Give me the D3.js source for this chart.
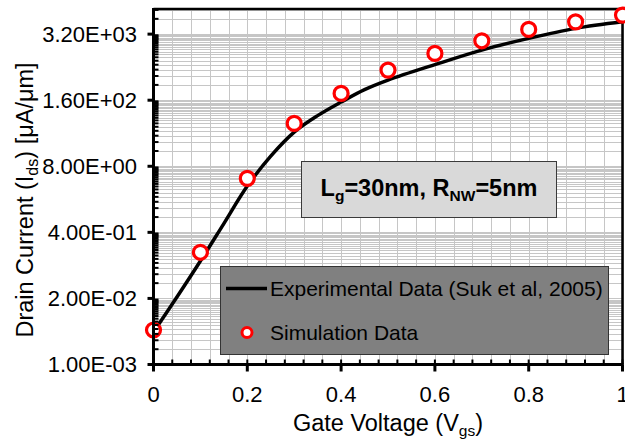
<!DOCTYPE html>
<html><head><meta charset="utf-8">
<script src="https://cdn.jsdelivr.net/npm/d3@7"></script>
<style>body{margin:0;background:#fff}svg{display:block}text{font-family:"Liberation Sans",Arial,sans-serif}</style>
</head><body>
<script>
const simX = [0,0.1,0.2,0.3,0.4,0.5,0.6,0.7,0.8,0.9,1.0];
const simY = [0.00478,0.162,4.63,55.9,218,626,1334,2366,3966,5590,7580];
const expX = [0,0.05,0.1,0.15,0.2,0.25,0.3,0.35,0.4,0.45,0.5,0.6,0.7,0.8,0.9,1.0];
const expY = [0.00436,0.0213,0.109,0.596,3.26,12.7,37.7,79.6,147,258,398,803,1550,2640,4150,5590];
const yTickVals = [1e-3,2e-2,4e-1,8,160,3200];
const yTickLabels = ["1.00E-03","2.00E-02","4.00E-01","8.00E+00","1.60E+02","3.20E+03"];
const xTickVals = [0,0.2,0.4,0.6,0.8,1];
const xTickLabels = ["0","0.2","0.4","0.6","0.8","1"];

const W=625,H=443;
const L=153.5,R=622.5,T=9,B=364.5;
const svg=d3.select("body").append("svg").attr("width",W).attr("height",H);
const x=d3.scaleLinear().domain([0,1]).range([L,R]);
const y=d3.scaleLog().base(20).domain([1e-3,1e4]).range([B,T]);

const yMinor=[];
yTickVals.forEach(b=>{for(let k=2;k<=19;k++){const v=b*k;if(v<1e4)yMinor.push(v);}});
const xMinor=d3.range(0,1.0001,0.04).map(v=>+v.toFixed(2));

const grid=svg.append("g").attr("stroke","#c6c6c6").attr("stroke-width",1);
xMinor.forEach(v=>{grid.append("line").attr("x1",Math.round(x(v))+0.5).attr("x2",Math.round(x(v))+0.5).attr("y1",T).attr("y2",B);});
yMinor.concat(yTickVals).forEach(v=>{const yy=Math.round(y(v))+0.5;grid.append("line").attr("x1",L).attr("x2",R).attr("y1",yy).attr("y2",yy);});

svg.append("path").attr("d",`M${L},${T}H${R}V${B}`).attr("fill","none").attr("stroke","#000").attr("stroke-width",2.5);

// text box
const tb=svg.append("g");
tb.append("rect").attr("x",301.5).attr("y",161.5).attr("width",255).attr("height",56).attr("fill","#d9d9d9").attr("stroke","#3a3a3a").attr("stroke-width",1);
const tt=tb.append("text").attr("x",429).attr("y",196).attr("text-anchor","middle").attr("font-size",23.5).attr("font-weight","bold").attr("fill","#000");
tt.append("tspan").text("L");
tt.append("tspan").attr("font-size",15.5).attr("dy",5).text("g");
tt.append("tspan").attr("dy",-5).text("=30nm, R");
tt.append("tspan").attr("font-size",15.5).attr("dy",5).text("NW");
tt.append("tspan").attr("dy",-5).text("=5nm");

// legend
const lg=svg.append("g");
lg.append("rect").attr("x",220.5).attr("y",266.5).attr("width",388).attr("height",88).attr("fill","#808080").attr("stroke","#333").attr("stroke-width",1);
lg.append("line").attr("x1",226).attr("x2",267).attr("y1",288.5).attr("y2",288.5).attr("stroke","#000").attr("stroke-width",3.5);
lg.append("text").attr("x",270).attr("y",296).attr("font-size",21).attr("fill","#000").text("Experimental Data (Suk et al, 2005)");
lg.append("circle").attr("cx",247).attr("cy",332.5).attr("r",5).attr("fill","#fff").attr("stroke","#ff0000").attr("stroke-width",3);
lg.append("text").attr("x",270).attr("y",340).attr("font-size",21).attr("fill","#000").text("Simulation Data");

// experimental line
const line=d3.line().x((d,i)=>x(expX[i])).y(d=>y(d)).curve(d3.curveCatmullRom.alpha(0.5));
svg.append("path").datum(expY).attr("d",line).attr("fill","none").attr("stroke","#000").attr("stroke-width",3.5);

// simulation points
svg.append("g").selectAll("circle").data(simY).join("circle")
 .attr("cx",(d,i)=>x(simX[i])).attr("cy",d=>y(d)).attr("r",7)
 .attr("fill","#fff").attr("stroke","#ff0000").attr("stroke-width",3.2);

// axes
const ax=svg.append("g").attr("stroke","#000");
ax.append("line").attr("x1",L).attr("x2",L).attr("y1",T-1).attr("y2",B+1.5).attr("stroke-width",3);
ax.append("line").attr("x1",L-1.5).attr("x2",R+1).attr("y1",B).attr("y2",B).attr("stroke-width",3);
yTickVals.forEach(v=>{ax.append("line").attr("x1",L-6).attr("x2",L).attr("y1",y(v)).attr("y2",y(v)).attr("stroke-width",3);});
yMinor.forEach(v=>{ax.append("line").attr("x1",L).attr("x2",L+5).attr("y1",y(v)).attr("y2",y(v)).attr("stroke-width",2);});
xTickVals.forEach(v=>{ax.append("line").attr("x1",x(v)).attr("x2",x(v)).attr("y1",B).attr("y2",B+7).attr("stroke-width",3);});
xMinor.forEach(v=>{ax.append("line").attr("x1",x(v)).attr("x2",x(v)).attr("y1",B).attr("y2",B-5).attr("stroke-width",2);});

// tick labels
svg.append("g").selectAll("text").data(yTickVals).join("text")
 .attr("x",137).attr("y",d=>y(d)+7.5).attr("text-anchor","end").attr("font-size",22).attr("fill","#000")
 .text((d,i)=>yTickLabels[i]);
svg.append("g").selectAll("text").data(xTickVals).join("text")
 .attr("x",d=>x(d)).attr("y",402).attr("text-anchor","middle").attr("font-size",22).attr("fill","#000")
 .text((d,i)=>xTickLabels[i]);

// axis titles
const xt=svg.append("text").attr("x",388).attr("y",431).attr("text-anchor","middle").attr("font-size",23.5).attr("fill","#000");
xt.append("tspan").text("Gate Voltage (V");
xt.append("tspan").attr("font-size",15.5).attr("dy",5).text("gs");
xt.append("tspan").attr("dy",-5).text(")");

const yt=svg.append("text").attr("transform","translate(33,200) rotate(-90)").attr("text-anchor","middle").attr("font-size",23.5).attr("fill","#000");
yt.append("tspan").text("Drain Current (I");
yt.append("tspan").attr("font-size",16).attr("dy",5).text("ds");
yt.append("tspan").attr("dy",-5).text(") [μA/μm]");
</script>
</body></html>
